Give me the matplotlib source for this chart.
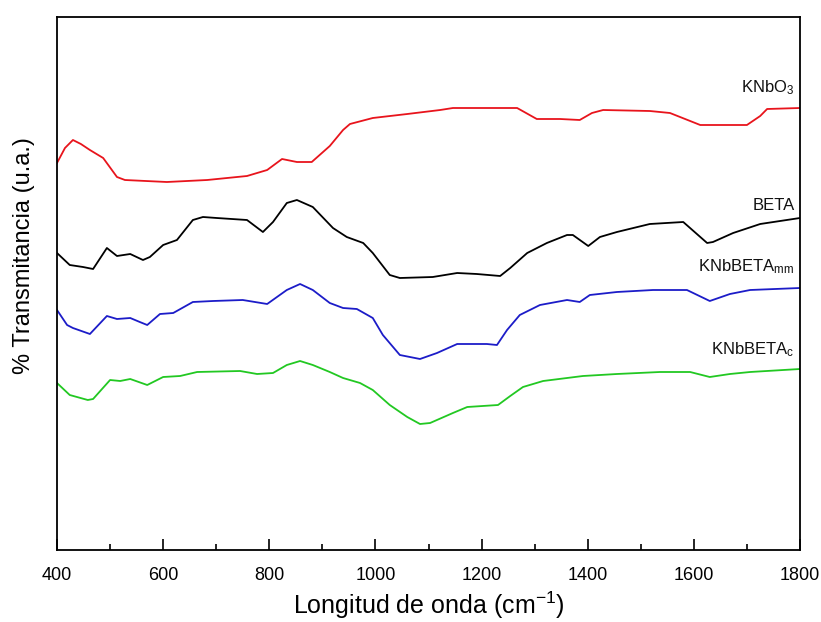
import matplotlib
matplotlib.use("Agg")
import matplotlib.pyplot as plt
from matplotlib import font_manager
from matplotlib.ticker import MultipleLocator

names = {f.name for f in font_manager.fontManager.ttflist}
narrow = "Liberation Sans Narrow" if "Liberation Sans Narrow" in names else "Liberation Sans"
plt.rcParams['font.family'] = [narrow, 'DejaVu Sans']

# KNbO3 (red)
knbo3_x = [400, 415, 430, 445, 462, 487, 513, 528, 607, 683, 758, 796, 824, 852, 880, 914, 939, 952,
           995, 1060, 1122, 1146, 1267, 1304, 1348, 1385, 1408, 1429, 1517, 1555, 1612,
           1700, 1725, 1738, 1800]
knbo3_y = [387, 402, 410, 406, 400, 392, 373, 370, 368, 370, 374, 380, 391, 388, 388, 404, 420, 426,
           432, 436, 440, 442, 442, 431, 431, 430, 437, 440, 439, 437, 425,
           425, 434, 441, 442]

# BETA (black)
beta_x = [400, 424, 449, 468, 494, 513, 538, 562, 575, 600, 626, 656, 675, 701, 758, 788,
          807, 833, 852, 882, 920, 946, 977, 995, 1027, 1046, 1108, 1154, 1191, 1235,
          1254, 1286, 1323, 1361, 1372, 1401, 1423, 1455, 1517, 1580, 1625, 1636, 1674,
          1725, 1800]
beta_y = [297, 285, 283, 281, 302, 294, 296, 290, 293, 305, 310, 330, 333, 332, 330, 318,
          328, 347, 350, 343, 322, 313, 307, 297, 275, 272, 273, 277, 276, 274,
          282, 297, 307, 315, 315, 304, 313, 318, 326, 328, 307, 308, 317,
          326, 332]

# KNbBETA_mm (blue)
mm_x = [400, 419, 430, 462, 494, 513, 538, 556, 570, 594, 619, 656, 694, 750, 796, 833,
        858, 882, 914, 939, 965, 995, 1014, 1046, 1084, 1116, 1154, 1210, 1229, 1248,
        1272, 1310, 1361, 1385, 1404, 1455, 1523, 1587, 1630, 1668, 1706, 1800]
mm_y = [240, 225, 222, 216, 234, 231, 232, 228, 225, 236, 237, 248, 249, 250, 246, 260,
        266, 260, 247, 242, 241, 232, 215, 195, 191, 197, 206, 206, 205, 220,
        235, 245, 250, 248, 255, 258, 260, 260, 249, 256, 260, 262]

# KNbBETA_c (green)
c_x = [400, 424, 458, 468, 500, 519, 538, 570, 600, 632, 664, 745, 777, 807, 833, 858,
       882, 914, 939, 971, 995, 1027, 1060, 1084, 1103, 1146, 1173, 1231, 1254, 1278,
       1316, 1391, 1455, 1536, 1593, 1630, 1668, 1706, 1800]
c_y = [167, 155, 150, 151, 170, 169, 171, 165, 173, 174, 178, 179, 176, 177, 185, 189,
       185, 178, 172, 167, 160, 145, 133, 126, 127, 137, 143, 145, 154, 163,
       169, 174, 176, 178, 178, 173, 176, 178, 181]

labels = ["KNbO$\\mathregular{_3}$", "BETA", "KNbBETA$\\mathregular{_{mm}}$", "KNbBETA$\\mathregular{_{c}}$"]
label_pos_y = [462, 344, 283, 200]

fig = plt.figure(figsize=(8.21, 6.22), dpi=100)
ax = fig.add_axes([57/821, 1 - 550/622, 743/821, 533/622])

ax.plot(knbo3_x, knbo3_y, color='#e8141c', lw=1.3)
ax.plot(beta_x, beta_y, color='black', lw=1.3)
ax.plot(mm_x, mm_y, color='#1c1cc8', lw=1.3)
ax.plot(c_x, c_y, color='#22c822', lw=1.3)

for lab, ly in zip(labels, label_pos_y):
    ax.text(1790, ly, lab, ha='right', va='center', fontsize=12, color='#111111')

ax.set_xlim(400, 1800)
ax.set_ylim(0, 533)
ax.set_yticks([])
ax.xaxis.set_major_locator(MultipleLocator(200))
ax.xaxis.set_minor_locator(MultipleLocator(100))
ax.tick_params(axis='x', which='major', direction='in', length=8, width=1.2, labelsize=13, pad=12, top=False)
ax.tick_params(axis='x', which='minor', direction='in', length=4, width=1.2, top=False)
for s in ax.spines.values():
    s.set_linewidth(1.3)

ax.set_xlabel("Longitud de onda (cm$\\mathregular{^{-1}}$)", fontsize=18, labelpad=4)
ax.set_ylabel("% Transmitancia (u.a.)", fontsize=17)
ax.yaxis.set_label_coords(-0.030, 0.553)

fig.savefig("out.png", dpi=100)
